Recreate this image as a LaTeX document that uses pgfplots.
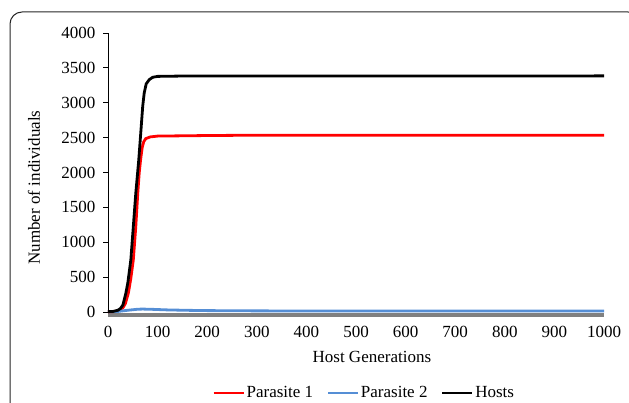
\documentclass[border=0pt]{standalone}
\usepackage{pgfplots}
\pgfplotsset{compat=1.18}
\usepackage{fontspec}
\setmainfont{Liberation Serif}
\definecolor{pblue}{RGB}{85,142,213}
\definecolor{pgray}{RGB}{128,128,128}
\begin{document}
\begin{tikzpicture}[font=\fontsize{17bp}{20bp}\selectfont]
\path[use as bounding box] (0bp,0bp) rectangle (629bp,403bp);
\draw[line width=1bp, black!85, rounded corners=12bp] (10bp,-30bp) rectangle (640bp,391bp);
\begin{axis}[
  at={(108bp,91bp)}, anchor=south west,
  scale only axis, width=496bp, height=279bp,
  xmin=0, xmax=1000, ymin=0, ymax=4000,
  xtick={0,100,...,1000}, ytick={0,500,...,4000},
  axis lines*=left,
  x axis line style={draw=none},
  y axis line style={black, line width=0.8bp},
  xtick style={draw=none},
  ytick style={black, line width=0.8bp},
  tick align=outside, major tick length=5bp,
  /pgf/number format/assume math mode=true,
  /pgf/number format/1000 sep={},
  xticklabel style={yshift=-6bp},
  yticklabel style={xshift=-4bp},
  clip=false,
  xlabel={Host Generations},
  ylabel={Number of individuals},
  every axis x label/.style={at={(rel axis cs:0.532,-0.162)}, anchor=center},
  every axis y label/.style={at={(rel axis cs:-0.149,0.446)}, anchor=center, rotate=90},
  legend columns=3,
  legend style={draw=none, fill=none, at={(0.516,-0.29)}, anchor=center,
    /tikz/every even column/.append style={column sep=12bp},
    nodes={inner sep=1.5bp}},
  legend image code/.code={\draw[#1] (0bp,0bp) -- (30bp,0bp);},
]
\addplot[pgray, line width=4bp, forget plot] coordinates {(0,-38) (1000,-38)};
\addplot[red, line width=2.8bp] coordinates {
(0,2)(10,5)(20,15)(30,60)(35,120)(41,270)(46,480)(51,745)(56,1220)(60,1700)(63,2000)(66,2200)(69,2360)(72,2440)(76,2485)(85,2510)(100,2522)(200,2530)(300,2535)(1000,2535)};
\addlegendentry{Parasite 1}
\addplot[pblue, line width=2.8bp] coordinates {
(0,3)(20,8)(40,25)(60,40)(70,42)(90,38)(120,30)(160,24)(200,20)(300,16)(500,14)(1000,14)};
\addlegendentry{Parasite 2}
\addplot[black, line width=2.8bp] coordinates {
(0,5)(10,8)(20,25)(25,50)(30,100)(36,270)(40,420)(46,745)(51,1220)(56,1700)(62,2180)(67,2660)(70,2950)(73,3140)(77,3270)(83,3330)(90,3365)(100,3378)(150,3383)(1000,3385)};
\addlegendentry{Hosts}
\end{axis}
\end{tikzpicture}
\end{document}
